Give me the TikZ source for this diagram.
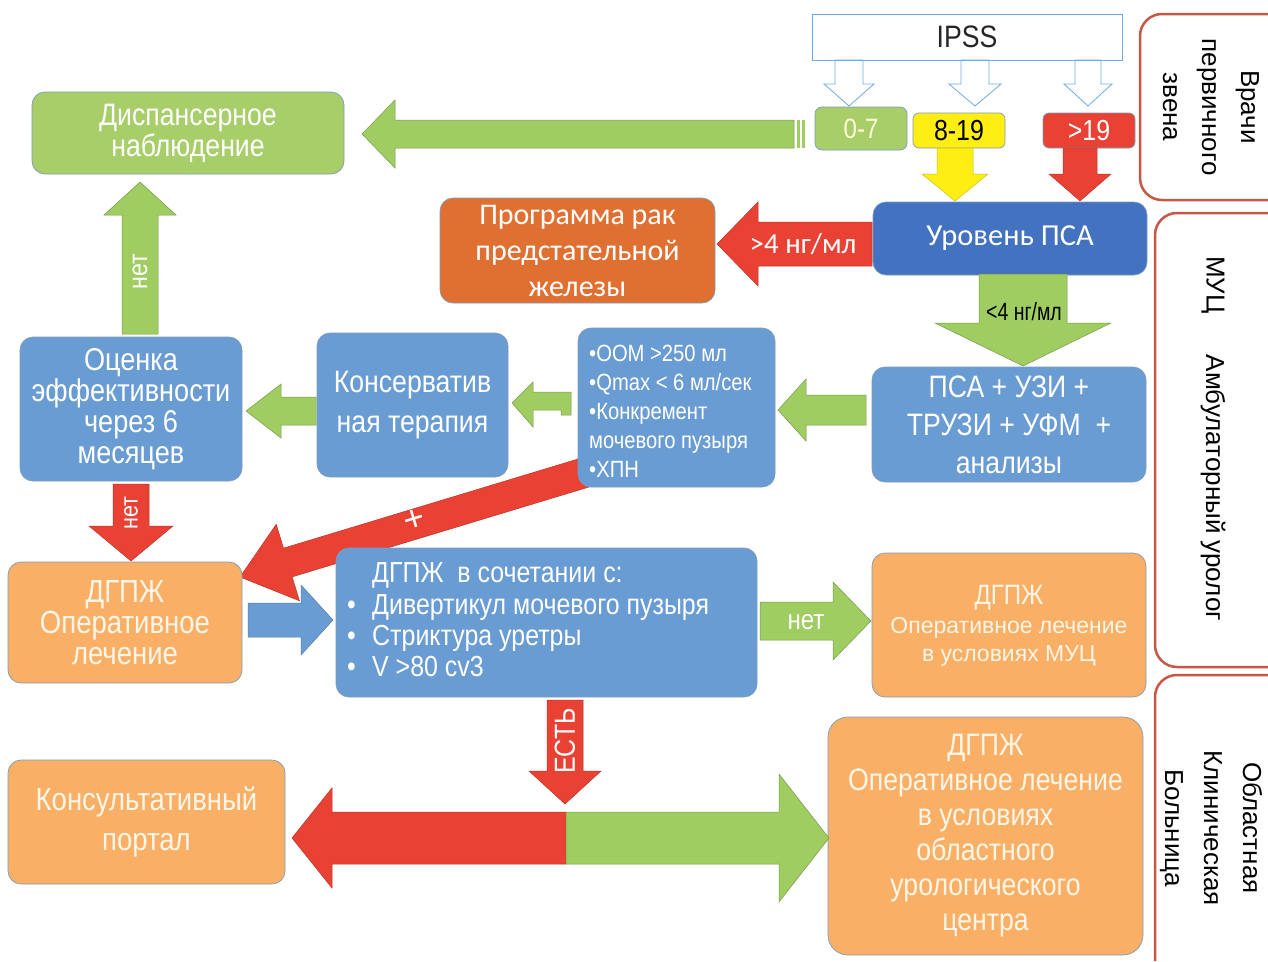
\documentclass[tikz,border=0pt]{standalone}
\usepackage{fontspec}
\setmainfont{Liberation Sans}
\newfontfamily\narrowf{Liberation Sans}[FakeStretch=0.86]
\newfontfamily\narrowerf{Liberation Sans}[FakeStretch=0.78]
\newfontfamily\calib{Carlito}
\usetikzlibrary{calc}
\pgfdeclarelayer{bg}
\pgfsetlayers{bg,main}
\definecolor{bdark}{RGB}{66,114,192}
\definecolor{bmid}{RGB}{106,156,212}
\definecolor{gbox}{RGB}{168,206,106}
\definecolor{garr}{RGB}{160,205,98}
\definecolor{olight}{RGB}{249,176,102}
\definecolor{odark}{RGB}{224,112,50}
\definecolor{rred}{RGB}{233,66,52}
\definecolor{yel}{RGB}{255,238,20}
\definecolor{framec}{RGB}{200,88,70}
\definecolor{lblue}{RGB}{110,170,225}
\definecolor{edgec}{RGB}{125,155,185}
\definecolor{cream}{RGB}{255,246,232}
\newcommand{\fs}[2]{\fontsize{#1}{#2}\selectfont}
% #1 style, #2 tail, #3 tip, #4 shaft half width, #5 head half width, #6 head length
\newcommand{\blockarrow}[6]{%
  \coordinate (ba-hb) at ($(#3)!#6!(#2)$);
  \filldraw[#1] ($(#2)!#4!90:(#3)$) -- ($(ba-hb)!#4!-90:(#2)$) -- ($(ba-hb)!#5!-90:(#2)$) -- (#3)
    -- ($(ba-hb)!#5!90:(#2)$) -- ($(ba-hb)!#4!90:(#2)$) -- ($(#2)!#4!-90:(#3)$) -- cycle;}
\begin{document}
\begin{tikzpicture}[x=1pt,y=-1pt,
  box/.style={rounded corners=13pt, draw=edgec, line width=0.7pt, text=white, align=center, inner sep=0pt},
  frameline/.style={draw=framec, line width=2.5pt, rounded corners=22pt},
  agreen/.style={fill=garr, draw=garr!75!black, line width=0.5pt},
  ared/.style={fill=rred, draw=rred!80!black, line width=0.5pt},
  ayel/.style={fill=yel, draw=yel!80!black, line width=0.5pt},
  ablue/.style={fill=bmid, draw=bmid!80!black, line width=0.5pt},
  ahollow/.style={fill=white, draw=lblue, line width=0.8pt},
  lbl/.style={text=white, inner sep=0pt}]
\useasboundingbox (0,0) rectangle (1268,961);
\begin{pgfonlayer}{bg}
\fill[white] (0,0) rectangle (1268,961);
\end{pgfonlayer}

% ---------- boxes ----------
\node[draw=lblue, line width=0.8pt, fill=white, minimum width=310pt, minimum height=46pt, inner sep=0pt,
      font=\narrowf\fs{31}{32}, text=black!85] (ipss) at (967,37) {IPSS};
\node[box, fill=gbox, rounded corners=7pt, minimum width=92pt, minimum height=43pt,
      font=\narrowf\fs{28}{30}, text=white!85!yellow] (s07) at (861,128.5) {0-7};
\node[box, fill=yel, rounded corners=6pt, minimum width=92pt, minimum height=35pt,
      font=\narrowf\fs{29}{30}, text=black] (s819) at (959,130.5) {8-19};
\node[box, fill=rred, rounded corners=6pt, minimum width=92pt, minimum height=35pt,
      font=\narrowf\fs{29}{30}] (s19) at (1089,130.5) {>19};

\node[box, fill=bdark, minimum width=274pt, minimum height=73pt, font=\calib\fs{30.5}{32}] (psa) at (1010,238.5) {Уровень ПСА};
\node[box, fill=bmid, minimum width=274pt, minimum height=115pt, font=\narrowf\fs{31}{38}] (tests) at (1009,424.5)
  {ПСА + УЗИ +\\ТРУЗИ + УФМ\ \ +\\анализы};
\node[box, fill=bmid, minimum width=197pt, minimum height=159pt] (crit) at (676.5,407.5) {};
\node[anchor=west, align=left, text=white, inner sep=0pt, font=\narrowf\fs{23.5}{29}] (critt) at (589,411)
  {•ООМ >250 мл\\•Qmax < 6 мл/сек\\•Конкремент\\мочевого пузыря\\•ХПН};
\node[box, fill=bmid, minimum width=191pt, minimum height=144pt, font=\narrowf\fs{31}{40}] (kons) at (412.5,405)
  {Консерватив\\ная терапия};
\node[box, fill=bmid, minimum width=222pt, minimum height=144pt, font=\narrowf\fs{31.5}{31}] (ocenka) at (131,409)
  {Оценка\\эффективности\\через 6\\месяцев};
\node[box, fill=gbox, minimum width=312pt, minimum height=82pt, font=\narrowf\fs{31}{31}] (disp) at (188,133)
  {Диспансерное\\наблюдение};
\node[box, fill=odark, minimum width=275pt, minimum height=105pt, font=\calib\fs{30}{36}] (prog) at (577.5,250.5)
  {Программа рак\\предстательной\\железы};
\node[box, fill=olight, minimum width=234pt, minimum height=121pt, font=\narrowf\fs{32}{31}, text=cream] (dg1) at (125,622.5)
  {ДГПЖ\\Оперативное\\лечение};
\node[box, fill=bmid, minimum width=421pt, minimum height=149pt] (comb) at (546.5,622.5) {};
\node[anchor=mid west, lbl, font=\narrowf\fs{29}{31}] (combt) at (372,580) {ДГПЖ\ \ в сочетании с:};
\node[anchor=mid west, lbl, font=\narrowf\fs{29}{31}] (cb1) at (347,612) {•};
\node[anchor=mid west, lbl, font=\narrowf\fs{29}{31}] (cb1t) at (372,612) {Дивертикул мочевого пузыря};
\node[anchor=mid west, lbl, font=\narrowf\fs{29}{31}] (cb2) at (347,643) {•};
\node[anchor=mid west, lbl, font=\narrowf\fs{29}{31}] (cb2t) at (372,643) {Стриктура уретры};
\node[anchor=mid west, lbl, font=\narrowf\fs{29}{31}] (cb3) at (347,674) {•};
\node[anchor=mid west, lbl, font=\narrowf\fs{29}{31}] (cb3t) at (372,674) {V >80 cv3};
\node[box, fill=olight, minimum width=274pt, minimum height=144pt] (muc) at (1009,625) {};
\node[lbl, text=cream, font=\narrowf\fs{28}{30}] (muct1) at (1009,598) {ДГПЖ};
\node[lbl, text=cream, font=\fs{23}{28}] (muct2) at (1009,628) {Оперативное лечение};
\node[lbl, text=cream, font=\fs{23}{28}] (muct3) at (1009,656) {в условиях МУЦ};
\node[box, fill=olight, minimum width=277pt, minimum height=124pt, font=\narrowf\fs{32}{40}, text=cream] (portal) at (146.5,822)
  {Консультативный\\портал};
\node[box, fill=olight, rounded corners=20pt, minimum width=315pt, minimum height=238pt, font=\narrowf\fs{31}{35}, text=cream] (oblast) at (985.5,836)
  {ДГПЖ\\Оперативное лечение\\в условиях\\областного\\урологического\\центра};

% ---------- side frames ----------
\draw[frameline] (1268,14) -- (1140,14) -- (1140,200) -- (1268,200);
\node[rotate=-90, align=center, inner sep=0pt, font=\fs{26}{39}] (fr1) at (1211,107) {Врачи\\первичного\\звена};
\draw[frameline] (1268,213) -- (1155,213) -- (1155,667) -- (1268,667);
\node[rotate=-90, inner sep=0pt, font=\fs{26}{30}] (fr2a) at (1213,285) {МУЦ};
\node[rotate=-90, inner sep=0pt, font=\fs{26}{30}] (fr2b) at (1213,488) {Амбулаторный уролог};
\draw[frameline] (1268,675) -- (1155,675) -- (1155,961);
\node[rotate=-90, align=center, inner sep=0pt, font=\fs{26}{39}] (fr3) at (1211,828) {Областная\\Клиническая\\Больница};

% ---------- arrow end points ----------
\coordinate (i1s) at (849,60);  \coordinate (i1e) at (849,106);
\coordinate (i2s) at (975,60);  \coordinate (i2e) at (975,106);
\coordinate (i3s) at (1088,60); \coordinate (i3e) at (1088,106);
\coordinate (ys) at (955,148);  \coordinate (ye) at (955,201);
\coordinate (rs) at (1080,148); \coordinate (re) at (1080,201);
\coordinate (gls) at (794,134); \coordinate (gle) at (362,134);
\coordinate (r4s) at (872,244); \coordinate (r4e) at (717,244);
\coordinate (l4s) at (1023,274); \coordinate (l4e) at (1023,366);
\coordinate (gts) at (866,410); \coordinate (gte) at (778,410);
\coordinate (gks) at (316,411); \coordinate (gke) at (246,411);
\coordinate (gus) at (140,334); \coordinate (gue) at (140,182);
\coordinate (rds) at (131,484); \coordinate (rde) at (131,561);
\coordinate (dgs) at (600,468); \coordinate (dge) at (240,577);
\coordinate (bls) at (248,620); \coordinate (ble) at (333,620);
\coordinate (gns) at (760,621); \coordinate (gne) at (871,621);
\coordinate (res) at (565,700); \coordinate (ree) at (565,804);
\coordinate (dm) at (566,838);
\coordinate (dre) at (292,838); \coordinate (dge2) at (829,838);

\begin{pgfonlayer}{bg}
\blockarrow{ared}{dgs}{dge}{15pt}{40pt}{50pt}
\end{pgfonlayer}

\blockarrow{ahollow}{i1s}{i1e}{14pt}{25pt}{22pt}
\blockarrow{ahollow}{i2s}{i2e}{14pt}{26pt}{22pt}
\blockarrow{ahollow}{i3s}{i3e}{13pt}{24pt}{22pt}
\draw[lblue, line width=0.8pt] (ipss.south west) -- (ipss.south east);
\blockarrow{ayel}{ys}{ye}{18pt}{33pt}{27pt}
\blockarrow{ared}{rs}{re}{17pt}{31pt}{27pt}
\blockarrow{agreen}{gls}{gle}{14pt}{34pt}{33pt}
\fill[garr] (797,120) rectangle (799.5,148);
\fill[garr] (802,120) rectangle (804.5,148);
\blockarrow{ared}{r4s}{r4e}{22pt}{42pt}{41pt}
\blockarrow{agreen}{l4s}{l4e}{44pt}{88pt}{43pt}
\blockarrow{agreen}{gts}{gte}{15pt}{31pt}{28pt}
\filldraw[agreen] (512,403) -- (533,382) -- (533,392) -- (571,392) -- (571,415) -- (561,415)
  -- (561,410) -- (533,410) -- (533,427) -- cycle;
\blockarrow{agreen}{gks}{gke}{14pt}{27pt}{35pt}
\blockarrow{agreen}{gus}{gue}{18pt}{36pt}{33pt}
\blockarrow{ared}{rds}{rde}{18pt}{42pt}{35pt}
\blockarrow{ablue}{bls}{ble}{17pt}{35pt}{32pt}
\blockarrow{agreen}{gns}{gne}{19pt}{39pt}{38pt}
\blockarrow{ared}{res}{ree}{18pt}{36pt}{33pt}
\blockarrow{ared}{dm}{dre}{26pt}{50pt}{40pt}
\blockarrow{agreen}{dm}{dge2}{26pt}{64pt}{50pt}

% ---------- arrow labels ----------
\node[lbl, font=\calib\fs{29}{30}] (l1) at (803,244) {>4 нг/мл};
\node[inner sep=0pt, text=black, font=\narrowerf\fs{25}{26}] (l2) at (1024,312) {<4 нг/мл};
\node[lbl, rotate=90, font=\narrowf\fs{27}{28}] (l3) at (140,272) {нет};
\node[lbl, rotate=90, font=\narrowf\fs{25}{28}] (l4) at (131,513) {нет};
\node[lbl, font=\narrowf\fs{28}{28}] (l5) at (806,622) {нет};
\node[lbl, rotate=90, font=\narrowf\fs{29}{30}] (l6) at (565,741) {ЕСТЬ};
\node[lbl, rotate=17, font=\fs{36}{36}] (l7) at (415,520) {+};
\end{tikzpicture}
\end{document}
